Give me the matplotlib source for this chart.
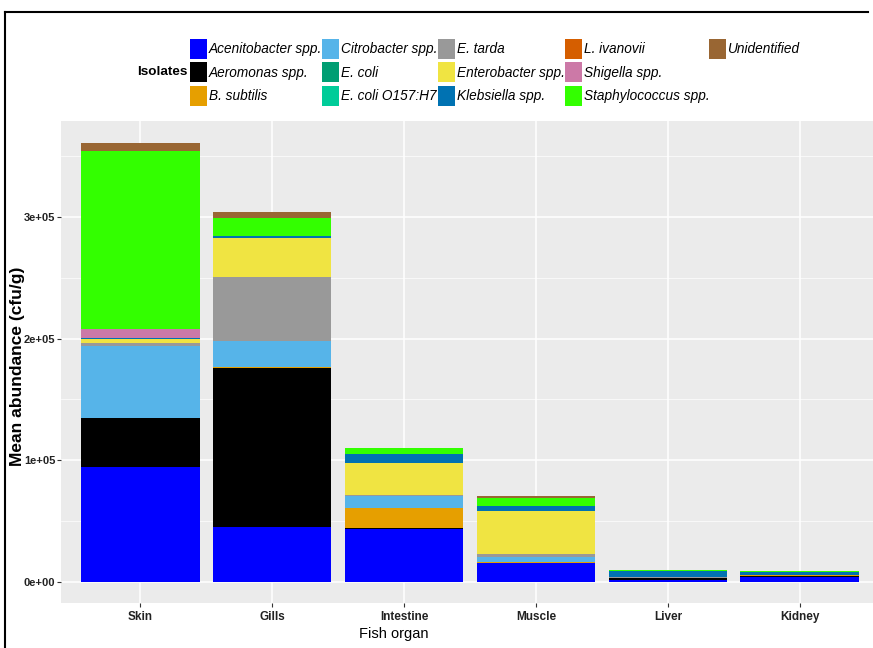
import numpy as np
import matplotlib
matplotlib.use('Agg')
import matplotlib.pyplot as plt
from matplotlib.patches import Patch
from matplotlib.ticker import MultipleLocator

plt.rcParams['font.family'] = ['Liberation Sans', 'DejaVu Sans']

organs = ['Skin', 'Gills', 'Intestine', 'Muscle', 'Liver', 'Kidney']
isolates = ['Acenitobacter spp.', 'Aeromonas spp.', 'B. subtilis',
            'Citrobacter spp.', 'E. coli', 'E. coli O157:H7',
            'E. tarda', 'Enterobacter spp.', 'Klebsiella spp.',
            'L. ivanovii', 'Shigella spp.', 'Staphylococcus spp.', 'Unidentified']
colors = ['#0000FF', '#000000', '#E69F00', '#56B4E9', '#009E73', '#00CC99',
          '#999999', '#F0E442', '#0072B2', '#D55E00', '#CC79A7', '#33FF00', '#996633']

# mean abundance (cfu/g), one list per isolate, in organ order
acenitobacter = [94400, 45300, 43400, 15100, 1500, 4000]
aeromonas     = [40000, 130300, 1000, 0, 1200, 300]
b_subtilis    = [0, 800, 16200, 1000, 0, 1400]
citrobacter   = [59800, 21400, 9600, 4400, 0, 0]
e_coli        = [0, 0, 0, 0, 0, 0]
e_coli_o157   = [0, 0, 0, 0, 0, 0]
e_tarda       = [2500, 52700, 1000, 2700, 1200, 0]
enterobacter  = [3000, 32100, 26300, 34600, 0, 0]
klebsiella    = [1000, 1500, 7400, 4300, 5000, 2200]
l_ivanovii    = [0, 0, 0, 0, 0, 0]
shigella      = [7200, 0, 0, 0, 0, 0]
staphylococcus = [146700, 14800, 4900, 7100, 800, 800]
unidentified  = [6100, 4900, 0, 1000, 0, 0]

series = [acenitobacter, aeromonas, b_subtilis, citrobacter, e_coli, e_coli_o157,
          e_tarda, enterobacter, klebsiella, l_ivanovii, shigella, staphylococcus,
          unidentified]

W, H = 873, 648
fig = plt.figure(figsize=(W / 100, H / 100), dpi=100)
fig.patch.set_facecolor('white')

# panel runs a little past the right edge, as in the cropped original
ax = fig.add_axes([61 / W, 1 - 603 / H, (879 - 61) / W, (603 - 121) / H])
ax.set_facecolor('#EBEBEB')

x = np.arange(len(organs))
bottom = np.zeros(len(organs))
for vals, c in zip(series, colors):
    vals = np.array(vals, dtype=float)
    ax.bar(x, vals, width=0.9, bottom=bottom, color=c, linewidth=0)
    bottom += vals

ax.set_xlim(-0.6, 5.6)
ax.set_ylim(-17500, 379000)
ax.set_xticks(x)
ax.set_xticklabels(organs, fontsize=8.5, fontweight='bold', color='#222222')
ax.set_yticks([0, 100000, 200000, 300000])
ax.set_yticklabels(['0e+00', '1e+05', '2e+05', '3e+05'], fontsize=8,
                   fontweight='bold', color='#222222')
ax.yaxis.set_minor_locator(MultipleLocator(50000))
ax.grid(which='major', color='white', linewidth=1.1)
ax.grid(which='minor', axis='y', color='white', linewidth=0.5)
ax.set_axisbelow(True)
ax.tick_params(axis='both', which='major', length=3, width=0.8, color='#333333', pad=2.5)
ax.tick_params(axis='y', which='major', pad=1)
ax.tick_params(axis='y', which='minor', length=0)
for s in ax.spines.values():
    s.set_visible(False)

ax.set_xlabel('Fish organ', fontsize=10.5)
ax.xaxis.set_label_coords((394 - 61) / 818, -(627 - 603) / 482)
ax.set_ylabel('Mean abundance (cfu/g)', fontsize=12.5, fontweight='bold')
ax.yaxis.set_label_coords(-(61 - 25) / 818, (603 - 366) / 482)

handles = [Patch(facecolor=c, edgecolor='none') for c in colors]
blank = Patch(facecolor='none', edgecolor='none')
leg = fig.legend(handles + [blank, blank], isolates + ['', ''], ncol=5,
                 loc='upper left', bbox_to_anchor=(190 / W, 1 - 38.5 / H),
                 frameon=False, prop={'style': 'italic', 'size': 9.8},
                 handlelength=1.25, handleheight=1.9, handletextpad=0.15,
                 columnspacing=0.0, labelspacing=0.26, borderpad=0,
                 borderaxespad=0)
fig.text(188 / W, 1 - 72 / H, 'Isolates', fontsize=9.7, fontweight='bold',
         ha='right', va='center')

# screenshot frame
fig.add_artist(plt.Line2D([5 / W, 5 / W], [0, 1 - 12 / H], color='black', lw=1.5))
fig.add_artist(plt.Line2D([5 / W, 868 / W], [1 - 12 / H, 1 - 12 / H], color='black', lw=1.5))

fig.savefig('out.png', dpi=100)
